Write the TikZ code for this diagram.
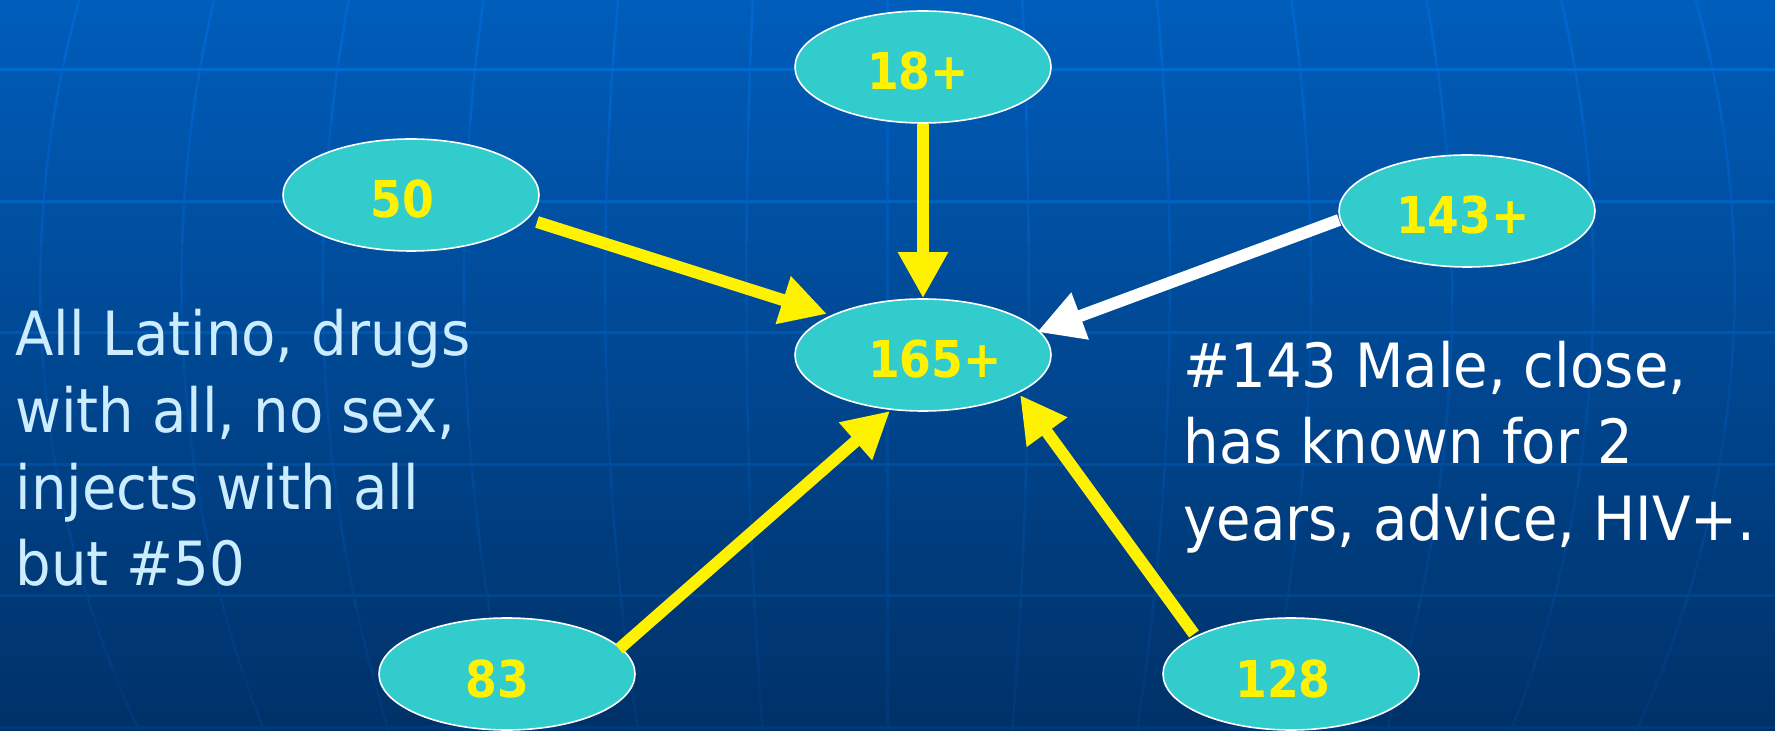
\documentclass[tikz,border=0pt]{standalone}
\usepackage{fontspec}
\usetikzlibrary{arrows.meta,shapes.geometric,calc}

% Typefaces: a slightly narrowed DejaVu Sans for notes and bold tags
\newfontfamily\notefont{DejaVu Sans}[FakeStretch=0.92]
\newfontfamily\tagfont{DejaVu Sans Bold}[FakeStretch=0.9]

\definecolor{bgtop}{RGB}{0,93,187}
\definecolor{bgbot}{RGB}{0,49,104}
\definecolor{nodefill}{RGB}{51,204,204}
\definecolor{notecol}{RGB}{204,236,255}

\tikzset{
  person/.style={ellipse, fill=nodefill, draw=white, line width=0.8pt,
    minimum width=128pt, minimum height=56pt, inner sep=0pt,
    text=yellow, font=\tagfont\fontsize{25.4}{30}\selectfont,
    text height=23pt, text depth=0pt},
  tie/.style={line width=6pt, -{Triangle[length=23pt,width=23.5pt]}},
  note/.style={inner sep=0pt, anchor=base west,
    font=\notefont\fontsize{30.5}{38}\selectfont},
}

\begin{document}
\begin{tikzpicture}[x=0.5pt,y=-0.5pt]
\useasboundingbox (0,0) rectangle (1775,731);

% backdrop
\shade[top color=bgtop,bottom color=bgbot] (0,0) rectangle (1775,731);

% globe meridians, tinted a little lighter than the backdrop at each height
\foreach \k in {-6,...,6}{
  \foreach \j in {0,...,11}{
    \pgfmathsetmacro\ya{\j*61}
    \pgfmathsetmacro\yb{min(\j*61+61,731)}
    \pgfmathsetmacro\t{(\ya+30)/731}
    \pgfmathtruncatemacro\gg{(93-44*\t)*1.12}
    \pgfmathtruncatemacro\bb{(187-83*\t)*1.12}
    \definecolor{gridc}{RGB}{0,\gg,\bb}
    \draw[gridc, line width=1.3pt]
      plot[domain=\ya:\yb, samples=5]
      ({887.5+141.2*\k*sqrt(1-((\x-285)/950)^2)}, \x);
  }
}

% parallels
\foreach \r in {0,...,5}{
  \pgfmathsetmacro\yy{70+131.4*\r}
  \pgfmathsetmacro\t{\yy/731}
  \pgfmathtruncatemacro\gg{(93-44*\t)*1.2}
  \pgfmathtruncatemacro\bb{(187-83*\t)*1.16}
  \definecolor{gridh}{RGB}{0,\gg,\bb}
  \draw[gridh, line width=1.5pt] (0,\yy) -- (1775,\yy);
}

% network members (kerns nudge each tag slightly off centre)
\node[person] (n18)  at (923,67)   {\kern-5pt 18+};
\node[person] (n50)  at (411,195)  {\kern-9pt 50};
\node[person] (n143) at (1467,211) {\kern-4pt 143+};
\node[person] (n165) at (923,355)  {165+\kern-12pt};
\node[person] (n83)  at (507,674)  {\kern-10pt 83};
\node[person] (n128) at (1291,674) {\kern-8pt 128};

% ties towards 165+
\draw[tie, yellow] (n18.south) -- (n165.north);
\draw[tie, yellow] ($(n50.center)+(126,27)$) -- ($(n165.center)+(-96,-41)$);
\draw[tie, white]  ($(n143.center)+(-128,9)$) -- ($(n165.center)+(114,-23)$);
\draw[tie, yellow] ($(n83.center)+(112,-25)$) -- ($(n165.center)+(-33,56)$);
\draw[tie, yellow] ($(n128.center)+(-97,-40)$) -- ($(n165.center)+(97,40)$);

% notes
\node[note, text=notecol] (a1) at (15,356) {All Latino, drugs};
\node[note, text=notecol] (a2) at (15,433) {with all, no sex,};
\node[note, text=notecol] (a3) at (15,509) {injects with all};
\node[note, text=notecol] (a4) at (15,585) {but \#50};

\node[note, text=white] (b1) at (1183,388) {\#143 Male, close,};
\node[note, text=white] (b2) at (1183,464) {has known for 2};
\node[note, text=white] (b3) at (1183,540) {years, advice, HIV+.};
\end{tikzpicture}
\end{document}
